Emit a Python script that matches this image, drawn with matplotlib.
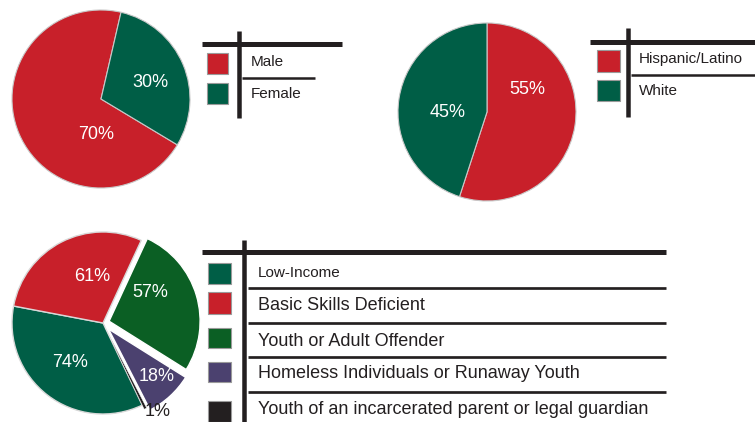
import matplotlib
matplotlib.use('Agg')
import matplotlib.pyplot as plt
from matplotlib.patches import Rectangle

plt.rcParams['font.family'] = ['Liberation Sans', 'DejaVu Sans']

# data
gender_labels = ['Male', 'Female']
gender_pct = [70, 30]

ethnic_labels = ['Hispanic/Latino', 'White']
ethnic_pct = [55, 45]

barrier_labels = ['Low-Income', 'Basic Skills Deficient', 'Youth or Adult Offender',
                  'Homeless Individuals or Runaway Youth',
                  'Youth of an incarcerated parent or legal guardian']
barrier_pct = [74, 61, 57, 18, 1]

# colours
RED = '#c8202a'
TEAL = '#005e46'
DKGREEN = '#0b5f24'
PURPLE = '#4b416f'
BLACK = '#231f20'
LINE = '#231f20'

W, H = 755, 422
fig = plt.figure(figsize=(7.55, 4.22), dpi=100)


def px(v):
    # pixels -> points for line widths
    return v * 72 / 100


def pie_axes(cx, cy, r, pad=1.2):
    ax = fig.add_axes([(cx - pad * r) / W, 1 - (cy + pad * r) / H,
                       2 * pad * r / W, 2 * pad * r / H])
    return ax


def finish(ax, pad=1.2):
    ax.set_xlim(-pad, pad)
    ax.set_ylim(-pad, pad)
    ax.axis('off')


# gender pie
ax1 = pie_axes(101, 99, 89)
ax1.pie(gender_pct, colors=[RED, TEAL], startangle=77, counterclock=True,
        wedgeprops=dict(edgecolor='#c8c8c8', linewidth=0.8))
for (x, y), v in zip([(-0.06, -0.40), (0.55, 0.18)], gender_pct):
    ax1.text(x, y, f'{v}%', ha='center', va='center', color='white', fontsize=13)
finish(ax1)

# ethnicity pie
ax2 = pie_axes(487, 112, 89)
ax2.pie(ethnic_pct, colors=[RED, TEAL], startangle=90, counterclock=False,
        wedgeprops=dict(edgecolor='#c8c8c8', linewidth=0.8))
for (x, y), v in zip([(0.45, 0.25), (-0.44, -0.01)], ethnic_pct):
    ax2.text(x, y, f'{v}%', ha='center', va='center', color='white', fontsize=13)
finish(ax2)

# barriers pie
barrier_colors = [TEAL, RED, DKGREEN, PURPLE, BLACK]
ax3 = pie_axes(103, 323, 91)
wedges, _ = ax3.pie(barrier_pct, colors=barrier_colors, startangle=295.5, counterclock=False,
                    explode=[0, 0, 0.07, 0.09, 0.05],
                    wedgeprops=dict(edgecolor='white', linewidth=1.0))
wedges[0].set_edgecolor('#d8d8d8')
wedges[1].set_edgecolor('#d8d8d8')
wedges[4].set_linewidth(0.3)
pos3 = [(-0.36, -0.43), (-0.12, 0.51), (0.52, 0.34), (0.59, -0.59), (0.60, -0.97)]
txtc = ['white', 'white', 'white', 'white', BLACK]
for (x, y), v, c in zip(pos3, barrier_pct, txtc):
    ax3.text(x, y, f'{v}%', ha='center', va='center', color=c, fontsize=13)
finish(ax3)

# legends drawn in pixel space
lg = fig.add_axes([0, 0, 1, 1])
lg.set_xlim(0, W)
lg.set_ylim(H, 0)
lg.axis('off')


def square(x0, y0, x1, y1, c):
    lg.add_patch(Rectangle((x0, y0), x1 - x0, y1 - y0, facecolor=c,
                           edgecolor='#9a9a9a', linewidth=0.8))


# legend 1
lg.plot([202, 342], [44, 44], color=LINE, lw=px(5), solid_capstyle='butt')
lg.plot([239, 239], [31, 118], color=LINE, lw=px(4.5), solid_capstyle='butt')
lg.plot([242, 315], [78, 78], color=LINE, lw=px(2.5), solid_capstyle='butt')
for (y0, y1), ty, lab, c in zip([(53, 74), (83, 104)], [62, 94], gender_labels, [RED, TEAL]):
    square(207, y0, 228, y1, c)
    lg.text(251, ty, lab, ha='left', va='center', fontsize=11, color='#231f20')

# legend 2
lg.plot([590, 755], [42, 42], color=LINE, lw=px(5), solid_capstyle='butt')
lg.plot([628, 628], [28, 117], color=LINE, lw=px(4.5), solid_capstyle='butt')
lg.plot([631, 755], [75, 75], color=LINE, lw=px(2.5), solid_capstyle='butt')
for (y0, y1), ty, lab, c in zip([(50, 72), (80, 101)], [59, 91], ethnic_labels, [RED, TEAL]):
    square(597, y0, 620, y1, c)
    lg.text(639, ty, lab, ha='left', va='center', fontsize=11, color='#231f20')

# legend 3
lg.plot([202, 666], [252, 252], color=LINE, lw=px(5), solid_capstyle='butt')
lg.plot([244, 244], [240, 425], color=LINE, lw=px(4.5), solid_capstyle='butt')
for y in [288, 323, 357, 392]:
    lg.plot([248, 666], [y, y], color=LINE, lw=px(2.7), solid_capstyle='butt')
sq3 = [(263, 284), (292, 314), (328, 348), (362, 382), (401, 422)]
ty3 = [273, 306, 341, 374, 409]
fs3 = [11, 13, 13, 13, 13]
for (y0, y1), ty, lab, c, fs in zip(sq3, ty3, barrier_labels, barrier_colors, fs3):
    square(208, y0, 231, y1, c)
    lg.text(258, ty, lab, ha='left', va='center', fontsize=fs, color='#231f20')

fig.savefig('out.png', dpi=100, facecolor='white')
